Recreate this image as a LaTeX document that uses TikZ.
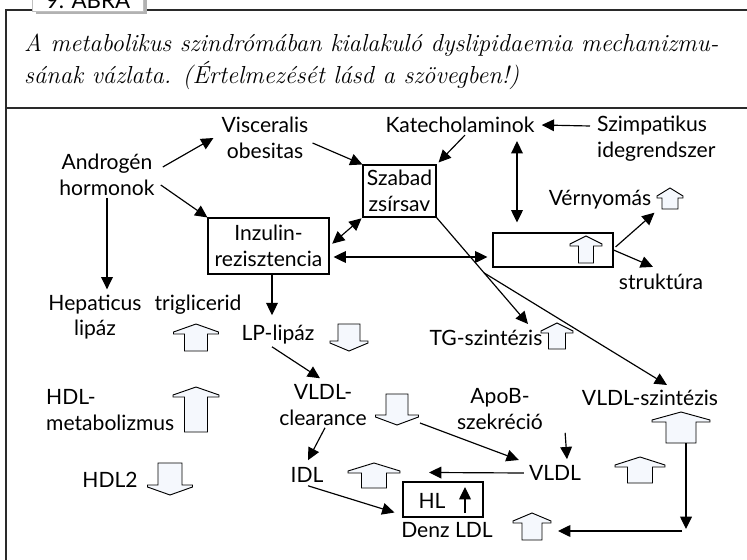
\documentclass[tikz,border=0pt]{standalone}
\usepackage{fontspec}
\usetikzlibrary{calc,arrows.meta}
\newfontfamily\diafont{Lato}
\definecolor{arrfill}{HTML}{F5F8FD}
\definecolor{framegray}{HTML}{2A2A2A}

\newcommand{\blockup}[5]{%
  \filldraw[blockarrow] (#1,#2) -- ++({#3/2},8) -- ++(0,2) -- ++({-(#3-#4)/2},0)
    -- ++(0,{#5-10}) -- ++({-#4},0) -- ++(0,{10-#5}) -- ++({-(#3-#4)/2},0) -- ++(0,-2) -- cycle;}
\newcommand{\blockdown}[5]{%
  \filldraw[blockarrow] ({#1-#4/2},#2) -- ++(#4,0) -- ++(0,{#5-10}) -- ++({(#3-#4)/2},0)
    -- ++(0,2) -- ({#1},{#2+#5}) -- ({#1-#3/2},{#2+#5-8}) -- ++(0,-2) -- ++({(#3-#4)/2},0) -- cycle;}

\begin{document}
\begin{tikzpicture}[x=0.03cm, y=-0.03cm,
  >={Triangle[length=10.5pt,width=10pt]},
  every node/.style={font=\diafont\fontsize{18}{22}\selectfont, align=center, inner sep=0pt},
  box/.style={draw, line width=0.9pt},
  conn/.style={line width=1pt},
  blockarrow/.style={fill=arrfill, draw, line width=0.8pt, line join=miter},
  frame/.style={draw=framegray, line width=1pt}]

  \useasboundingbox (0,0) rectangle (747,560);

  % header
  \draw[frame] (6,560) -- (6,10) -- (747,10);
  \draw[frame] (6,108) -- (747,108);
  \fill[black!30] (36,-6) rectangle (147,14);
  \filldraw[fill=white, draw=black!25, line width=0.6pt] (32,-10) rectangle (143,11);
  \node[anchor=base] (abra) at (88,8) {\fontsize{19}{22}\selectfont 9. ÁBRA};
  \node[anchor=north west, align=left, font=\itshape\fontsize{21}{27}\selectfont] (caption) at (24,34)
    {A metabolikus szindrómában kialakuló dyslipidaemia mechanizmu-\\sának vázlata. (Értelmezését lásd a szövegben!)};

  % boxes
  \node[box, minimum width=2.19cm, minimum height=1.56cm] (szabad) at (399.5,191) {Szabad\\zsírsav};
  \node[box, minimum width=3.63cm, minimum height=1.68cm] (inzulin) at (268.5,246) {Inzulin-\\rezisztencia};
  \node[box, minimum width=3.6cm, minimum height=1.02cm] (kozep) at (553,250) {};
  \node[box, minimum width=2.4cm, minimum height=1.05cm] (hl) at (443,499.5) {};
  \node (hltext) at (432,501) {HL};

  % texts
  \node (viszc) at (265,138) {Visceralis\\obesitas};
  \node (androgen) at (107,175) {Androgén\\hormonok};
  \node (katech) at (460,125) {Katecholaminok};
  \node[anchor=west, align=left] (szimp) at (597,139) {Szimpatikus\\idegrendszer};
  \node (vernyomas) at (600,200) {Vérnyomás};
  \node (struktura) at (661,282) {struktúra};
  \node (hepaticus) at (95,317) {Hepaticus\\lipáz};
  \node (trigl) at (198,305) {triglicerid};
  \node (lplipaz) at (278,335) {LP-lipáz};
  \node (tgszint) at (486,338) {TG-szintézis};
  \node[anchor=west, align=left] (hdlmet) at (46,410) {HDL-\\metabolizmus};
  \node (hdl2) at (110,480) {HDL2};
  \node (vldlclear) at (323,405) {VLDL-\\clearance};
  \node (idl) at (307,475) {IDL};
  \node (apob) at (500,409) {ApoB-\\szekréció};
  \node (vldl) at (555,473) {VLDL};
  \node (vldlszint) at (650,398) {VLDL-szintézis};
  \node (denz) at (447,530) {Denz LDL};

  % block arrows
  \blockup{586}{236}{32}{15}{27}
  \blockup{670}{188}{26}{16}{21}
  \blockup{196}{324}{45}{23}{27}
  \blockdown{349}{324}{38}{22}{27}
  \blockup{557}{323}{32}{17}{26}
  \blockup{196}{387}{46}{23}{45}
  \blockdown{170}{463}{45}{24}{32}
  \blockdown{397}{394}{43}{22}{31}
  \blockup{374}{463}{52}{25}{25}
  \blockup{640}{457}{50}{25}{26}
  \blockup{681}{412}{58}{30}{31}
  \blockup{532}{513}{38}{20}{27}

  \coordinate (clrarr) at (420,423);
  \coordinate (vszarr) at (686,443);
  \coordinate (sarok) at (686,529);
  \coordinate (denzarr) at (558,531);
  \coordinate (tgtip) at ([shift={(42,-6)}]tgszint.north);
  \coordinate (zsbranch) at ($(szabad.south east)!0.52!(tgtip)$);

  % connectors
  \draw[conn,->] ([shift={(8,-8)}]androgen.east) -- ([shift={(-8,0)}]viszc.west);
  \draw[conn,->] ([shift={(6,10)}]androgen.east) -- (inzulin.north west);
  \draw[conn,->] ([shift={(4,5)}]viszc.east) -- (szabad.north west);
  \draw[conn,->] ([shift={(0,2)}]androgen.south) -- ([shift={(0,-5)}]androgen.south |- hepaticus.north);
  \draw[conn,<->, shorten <=3pt, shorten >=1pt] (inzulin.east) -- (szabad.south west);
  \draw[conn,<->] ([shift={(4,11)}]inzulin.east) -- ([shift={(-5,7)}]kozep.west);
  \draw[conn,->] ([shift={(-7,-13)}]szimp.west) -- ([shift={(7,0)}]katech.east);
  \draw[conn,->] ([shift={(5,2)}]katech.south) -- ([shift={(2,-2)}]szabad.north east);
  \draw[conn,<->] ([shift={(57,8)}]katech.south) -- ([shift={(-36,-10)}]kozep.north);
  \draw[conn,->] ([shift={(2,-3)}]kozep.east) -- ([shift={(3,3)}]vernyomas.south east);
  \draw[conn,->] (kozep.east) -- ([shift={(-8,-7)}]struktura.north);
  \draw[conn,->] (szabad.south east) -- (tgtip);
  \draw[conn,->] (zsbranch) -- ([shift={(17,-5)}]vldlszint.north);
  \draw[conn,->] ([shift={(3.5,0)}]inzulin.south) -- ([shift={(-6,-10)}]lplipaz.north);
  \draw[conn,->] ([shift={(-6,2)}]lplipaz.south) -- ([shift={(-3,-6)}]vldlclear.north);
  \draw[conn,->] ([shift={(2,2)}]vldlclear.south) -- ([shift={(1,-7)}]idl.north);
  \draw[conn,->] (clrarr) -- ([shift={(-10,-13)}]vldl.west);
  \draw[conn,->] ([shift={(22,3)}]apob.south east) -- ([shift={(12,-6)}]vldl.north);
  \draw[conn,->] ([shift={(-5,0)}]vldl.west) -- ([shift={(-14,-9)}]hl.north);
  \draw[conn,->] ([shift={(1,3)}]idl.south) -- ([shift={(-8,-5)}]hl.south west);
  \draw[conn,->] (465,513) -- (465,487);
  \draw[conn,->] (vszarr) -- (sarok);
  \draw[conn,->] ([shift={(-4,2)}]sarok) -- (denzarr);

\end{tikzpicture}
\end{document}
